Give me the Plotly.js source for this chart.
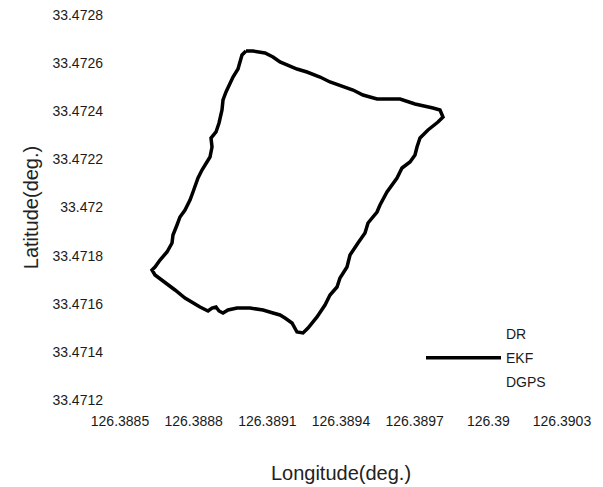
<!DOCTYPE html>
<html>
<head>
<meta charset="utf-8">
<script src="https://cdn.plot.ly/plotly-3.0.1.min.js"></script>
<style>html,body{margin:0;padding:0;background:#fff;}#chart{width:603px;height:487px;}</style>
</head>
<body>
<div id="chart"></div>
<script>
// EKF trajectory (longitude, latitude in degrees)
const ekfLon = [
126.3890131,126.3890416,126.3890905,126.3891231,126.3891516,126.3892208,126.3892615,126.3893145,126.3893552,126.3894081,
126.3894489,126.3894896,126.3895262,126.3895466,126.3896403,126.3896688,126.3897014,126.3897747,126.3898032,126.3898154,
126.3897950,126.3897543,126.3897217,126.3897095,126.3897014,126.3896810,126.3896484,126.3896281,126.3895873,126.3895588,
126.3895466,126.3895100,126.3894977,126.3894692,126.3894367,126.3894244,126.3893959,126.3893837,126.3893552,126.3893348,
126.3893023,126.3892656,126.3892453,126.3892208,126.3892005,126.3891719,126.3891516,126.3891231,126.3890824,126.3890294,
126.3889765,126.3889398,126.3889195,126.3889032,126.3888910,126.3888747,126.3888584,126.3888258,126.3887647,126.3887240,
126.3886833,126.3886425,126.3886303,126.3886425,126.3886629,126.3886914,126.3887118,126.3887158,126.3887321,126.3887443,
126.3887647,126.3887851,126.3887973,126.3888177,126.3888339,126.3888665,126.3888747,126.3888706,126.3888910,126.3889032,
126.3889154,126.3889195,126.3889317,126.3889480,126.3889602,126.3889805,126.3889887,126.3889968,126.3890131
];
const ekfLat = [
33.4726504,33.4726504,33.4726421,33.4726255,33.4726047,33.4725756,33.4725631,33.4725423,33.4725216,33.4725049,
33.4724883,33.4724675,33.4724592,33.4724509,33.4724509,33.4724426,33.4724301,33.4724135,33.4724052,33.4723761,
33.4723553,33.4723221,33.4722888,33.4722514,33.4722182,33.4721891,33.4721642,33.4721226,33.4720644,33.4720104,
33.4719813,33.4719356,33.4718940,33.4718525,33.4718026,33.4717527,33.4717070,33.4716696,33.4716364,33.4715948,
33.4715450,33.4714992,33.4714785,33.4714826,33.4715200,33.4715408,33.4715533,33.4715616,33.4715740,33.4715824,
33.4715824,33.4715740,33.4715616,33.4715699,33.4715865,33.4715824,33.4715699,33.4715865,33.4716239,33.4716572,
33.4716904,33.4717195,33.4717403,33.4717527,33.4717818,33.4718151,33.4718525,33.4718857,33.4719273,33.4719605,
33.4719896,33.4720312,33.4720644,33.4721226,33.4721559,33.4722099,33.4722514,33.4722888,33.4723138,33.4723512,
33.4724052,33.4724468,33.4724800,33.4725174,33.4725423,33.4725756,33.4726005,33.4726338,33.4726504
];
const seriesNames = ["DR", "EKF", "DGPS"];
const xTicks = [126.3885, 126.3888, 126.3891, 126.3894, 126.3897, 126.39, 126.3903];
const xTickText = ["126.3885", "126.3888", "126.3891", "126.3894", "126.3897", "126.39", "126.3903"];
const yTicks = [33.4712, 33.4714, 33.4716, 33.4718, 33.472, 33.4722, 33.4724, 33.4726, 33.4728];
const yTickText = ["33.4712", "33.4714", "33.4716", "33.4718", "33.472", "33.4722", "33.4724", "33.4726", "33.4728"];

const font = "'Liberation Sans', Arial, sans-serif";
const traces = [
  {x: [null], y: [null], name: seriesNames[0], mode: "lines", line: {color: "rgba(0,0,0,0)", width: 3}, legendgroup: "a"},
  {x: ekfLon, y: ekfLat, name: seriesNames[1], mode: "lines", line: {color: "#000", width: 3.5}, legendgroup: "b", hoverinfo: "x+y"},
  {x: [null], y: [null], name: seriesNames[2], mode: "lines", line: {color: "rgba(0,0,0,0)", width: 3}, legendgroup: "c"}
];
const layout = {
  width: 603, height: 487,
  margin: {l: 120, r: 41, t: 15, b: 87},
  paper_bgcolor: "#fff", plot_bgcolor: "#fff",
  font: {family: font, color: "#1a1a1a", size: 14},
  xaxis: {
    range: [126.3885, 126.3903], tickvals: xTicks, ticktext: xTickText,
    showgrid: false, zeroline: false, showline: false, ticks: "",
    ticklabelstandoff: 11, tickfont: {size: 14, family: font},
    title: {text: "Longitude(deg.)", font: {size: 20, family: font, color: "#222"}, standoff: 37}
  },
  yaxis: {
    range: [33.4712, 33.4728], tickvals: yTicks, ticktext: yTickText,
    showgrid: false, zeroline: false, showline: false, ticks: "",
    ticklabelstandoff: 16, tickfont: {size: 14, family: font},
    title: {text: "Latitude(deg.)", font: {size: 20, family: font, color: "#222"}, standoff: 8}
  },
  showlegend: true,
  legend: {x: 0.681, xanchor: "left", y: 0.213, yanchor: "top", bgcolor: "rgba(0,0,0,0)",
           font: {size: 14, family: font}, itemwidth: 75, tracegroupgap: 3, traceorder: "grouped"}
};
Plotly.newPlot("chart", traces, layout, {displayModeBar: false, staticPlot: true});
</script>
</body>
</html>
